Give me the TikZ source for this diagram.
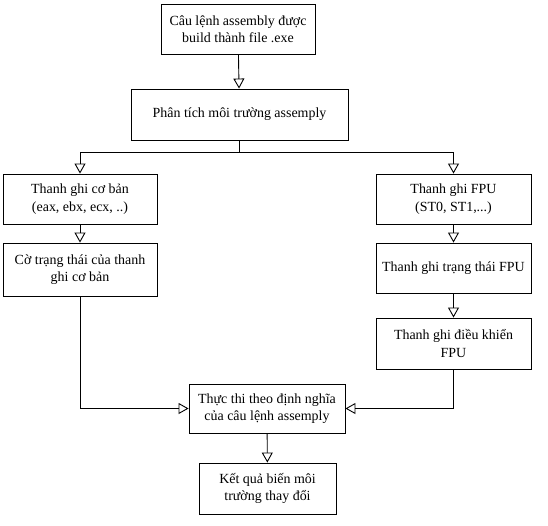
\documentclass[tikz,border=0pt]{standalone}
\usepackage{fontspec}
\setmainfont{Liberation Serif}
\usetikzlibrary{arrows.meta}
\begin{document}
\begin{tikzpicture}[x=1bp,y=-1bp,
  box/.style={draw,line width=0.9bp,align=center,inner sep=0pt,font=\fontsize{14pt}{17.5pt}\selectfont},
  arr/.style={line width=0.9bp,-{Triangle[open,length=10bp,width=11bp]}},
  ln/.style={line width=0.9bp}]
\useasboundingbox (0,0) rectangle (548,526);
\node[box,minimum width=154bp,minimum height=50bp] (b1) at (238,29) {Câu lệnh assembly được\\build thành file .exe};
\node[box,minimum width=217bp,minimum height=51bp] (b2) at (239.5,114.5) {Phân tích môi trường assemply};
\node[box,minimum width=154bp,minimum height=50bp] (l1) at (80,199) {Thanh ghi cơ bản\\(eax, ebx, ecx, ..)};
\node[box,minimum width=154bp,minimum height=53bp] (l2) at (80,269.5) {Cờ trạng thái của thanh\\ghi cơ bản};
\node[box,minimum width=155bp,minimum height=50bp] (r1) at (453.5,199) {Thanh ghi FPU\\(ST0, ST1,...)};
\node[box,minimum width=155bp,minimum height=50bp] (r2) at (453.5,268) {Thanh ghi trạng thái FPU};
\node[box,minimum width=155bp,minimum height=51bp] (r3) at (453.5,343.5) {Thanh ghi điều khiển\\FPU};
\node[box,minimum width=156bp,minimum height=49bp] (ex) at (267,408.5) {Thực thi theo định nghĩa\\của câu lệnh assemply};
\node[box,minimum width=137bp,minimum height=51bp] (rs) at (267.5,488.5) {Kết quả biến môi\\trường thay đổi};
\coordinate (sp) at (239.5,152);
\draw[arr] (b1) -- (b2);
\draw[ln] (b2.south) -- (sp);
\draw[arr] (sp) -| (l1.north);
\draw[arr] (sp) -| (r1.north);
\draw[arr] (l1) -- (l2);
\draw[arr] (l2.south) |- (ex.west);
\draw[arr] (r1) -- (r2);
\draw[arr] (r2) -- (r3);
\draw[arr] (r3.south) |- (ex.east);
\draw[arr] (ex) -- (rs);
\end{tikzpicture}
\end{document}
